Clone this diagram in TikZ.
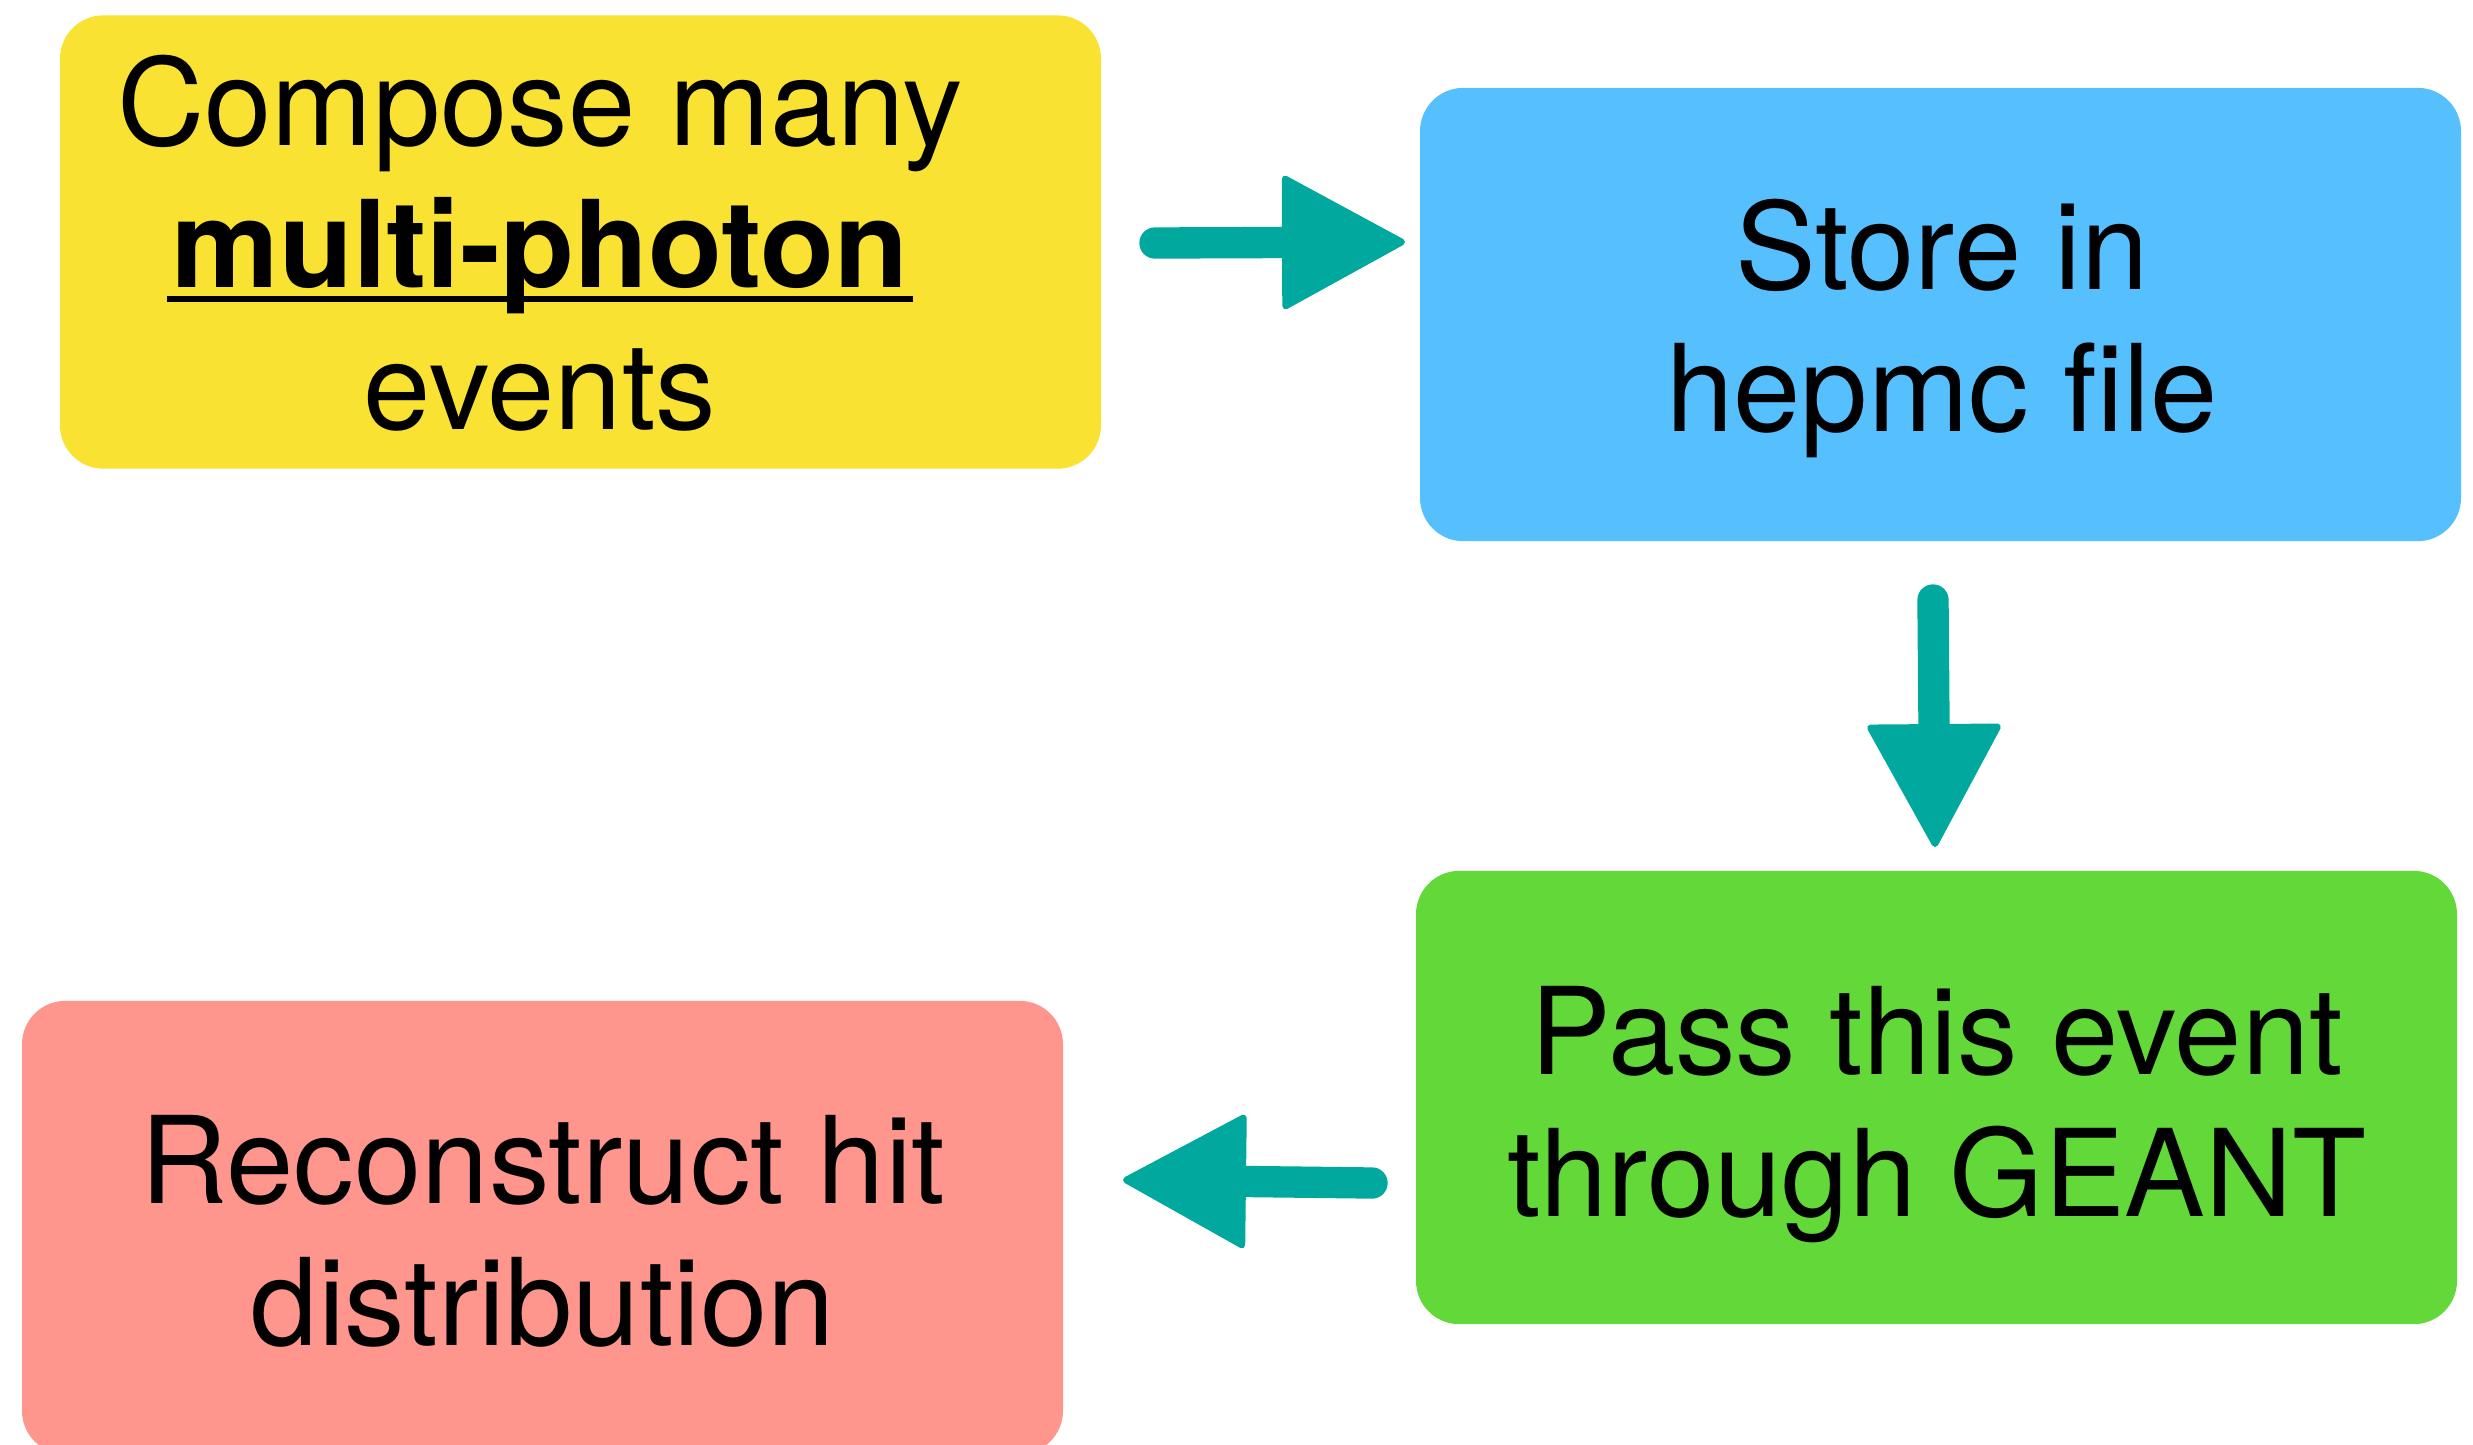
\documentclass[tikz,border=0pt]{standalone}
\usepackage{fontspec}
\setmainfont{TeX Gyre Heros}
\usetikzlibrary{arrows.meta}
\definecolor{boxyellow}{RGB}{249,226,49}
\definecolor{boxblue}{RGB}{86,192,255}
\definecolor{boxgreen}{RGB}{98,217,56}
\definecolor{boxred}{RGB}{254,150,141}
\definecolor{arrowteal}{RGB}{0,168,157}
\newcommand\ulword[1]{\setbox0=\hbox{#1}\rlap{\kern-0.035em\rule[-0.124em]{\dimexpr\wd0+0.07em\relax}{0.05em}}\box0}
\tikzset{
  stepbox/.style={rectangle, rounded corners=13pt, draw=none, inner sep=0pt,
    minimum width=312.3pt, minimum height=136pt},
  boxtext/.style={align=center, inner sep=0pt, font=\fontsize{36.3pt}{42.6pt}\selectfont},
  brush/.style={draw=arrowteal, line width=9.4pt, line cap=round,
    -{Triangle[length=38pt, width=41pt, line width=2pt, round]}},
}
\begin{document}
\begin{tikzpicture}[x=0.3pt, y=-0.3pt]
\useasboundingbox (0,0) rectangle (2473,1444);
\clip (0,0) rectangle (2473,1444);
% boxes
\node[stepbox, fill=boxyellow] (compose) at (580.5,242) {};
\node[stepbox, fill=boxblue] (store) at (1940.5,314.5) {};
\node[stepbox, fill=boxgreen] (pass) at (1936.5,1097.5) {};
\node[stepbox, fill=boxred] (reco) at (542.5,1227.5) {};
% texts
\node[boxtext] (composetext) at (540,243) {Compose many\\\textbf{\ulword{multi-photon}}\\events};
\node[boxtext] (storetext) at (1942,328) {Store in\\hepmc file};
\node[boxtext] (passtext) at (1937,1115) {Pass this event\\through GEANT};
\node[boxtext] (recotext) at (543,1231) {Reconstruct hit\\distribution};
% arrow end points
\coordinate (a1s) at (1155,243);
\coordinate (a1e) at (1405,242);
\coordinate (a2s) at (1933,600);
\coordinate (a2e) at (1935,847);
\coordinate (a3s) at (1372,1183);
\coordinate (a3e) at (1123,1180);
\draw[brush] (a1s) -- (a1e);
\draw[brush] (a2s) -- (a2e);
\draw[brush] (a3s) -- (a3e);
\end{tikzpicture}
\end{document}
